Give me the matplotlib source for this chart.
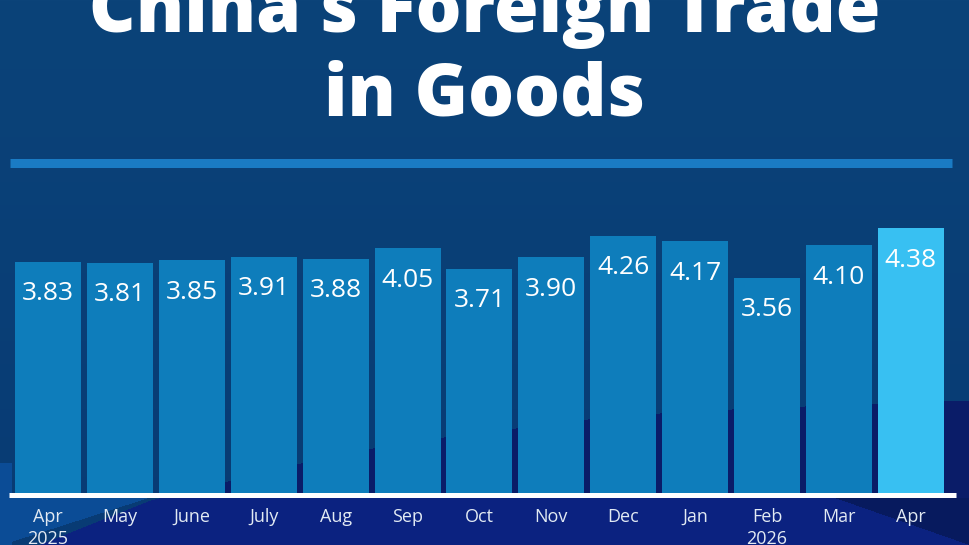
import numpy as np
import matplotlib
matplotlib.use("Agg")
import matplotlib.pyplot as plt
import matplotlib.transforms as mtransforms

# ---- data ----
months = ["Apr\n2025", "May", "June", "July", "Aug", "Sep", "Oct", "Nov",
          "Dec", "Jan", "Feb\n2026", "Mar", "Apr"]
values = [3.83, 3.81, 3.85, 3.91, 3.88, 4.05, 3.71, 3.90, 4.26, 4.17, 3.56, 4.10, 4.38]
title_lines = ["China's Foreign Trade", "in Goods"]

W, H = 969, 545
fig = plt.figure(figsize=(W / 100, H / 100), dpi=100)

# ---- background (pixel space) ----
bg = fig.add_axes([0, 0, 1, 1])
bg.set_axis_off()
yy, xx = np.mgrid[0:H, 0:W].astype(float)
top = np.array([0x0b, 0x43, 0x79]) / 255
bot = np.array([0x08, 0x3b, 0x74]) / 255
t = (yy / H)[..., None]
img = top * (1 - t) + bot * t
bx = [0, 150, 300, 372, 443, 515, 587, 659, 750, 969]
by = [560, 500, 463, 448, 437, 428, 419, 413, 408, 400]
bound = np.interp(xx, bx, by)
navy_hi = np.array([0x0a, 0x1c, 0x68]) / 255
navy_lo = np.array([0x0b, 0x22, 0x80]) / 255
img[(yy > bound) & (yy <= 497)] = navy_hi
img[(yy > bound) & (yy > 497)] = navy_lo
light = np.array([0x0b, 0x4c, 0x96]) / 255
lmask = ((yy > 462) & (xx < 12)) | ((yy > 497) & (xx < 150 * (545 - yy) / 48))
img[lmask] = light
dark = np.array([0x07, 0x1a, 0x5e]) / 255
dmask = (yy > 497) & (yy < 497 + (xx - 833) * 0.35)
img[dmask] = dark
bg.imshow(img, extent=(0, W, H, 0), aspect="auto", interpolation="bilinear")
bg.set_xlim(0, W)
bg.set_ylim(H, 0)

# ---- chart axes ----
ax = fig.add_axes([0, 0, 1, 1])
ax.set_axis_off()
ax.patch.set_alpha(0)
pitch = 71.9
x0 = -48 / pitch
ax.set_xlim(x0, x0 + W / pitch)
scale = 60.4
y0 = -(H - 493) / scale
ax.set_ylim(y0, y0 + H / scale)

x = np.arange(len(values))
colors = ["#0e7dbb"] * (len(values) - 1) + ["#38c0f2"]
ax.bar(x, values, width=66 / pitch, color=colors, zorder=2)

for xi, v in zip(x, values):
    ax.annotate(f"{v:.2f}", (xi, v), xytext=(0, -32 * 0.72), textcoords="offset points",
                ha="center", va="center", color="white", fontsize=19,
                family="Open Sans", zorder=3)

# baseline
ax.plot([(9 - 48) / pitch, (956 - 48) / pitch], [-2 / scale, -2 / scale],
        color="white", lw=3.6, solid_capstyle="butt", zorder=4)

# x labels
trans = mtransforms.blended_transform_factory(ax.transData, fig.transFigure)
for xi, m in zip(x, months):
    ax.text(xi, 1 - 508 / H, m, transform=trans, ha="center", va="top",
            color="#e2eaf3", fontsize=13, family="Open Sans", fontweight="medium",
            linespacing=1.3)

# title and rule
fig.text(0.5, 1 - 32 / H, title_lines[0], ha="center", va="baseline",
         color="white", fontsize=52, family="Open Sans", fontweight="heavy")
fig.text(0.5, 1 - 115 / H, title_lines[1], ha="center", va="baseline",
         color="white", fontsize=52, family="Open Sans", fontweight="heavy")
bg.plot([10, 952], [162.5, 162.5], color="#1a7bc4", lw=6.5, solid_capstyle="butt")

fig.savefig("out.png", dpi=100)
